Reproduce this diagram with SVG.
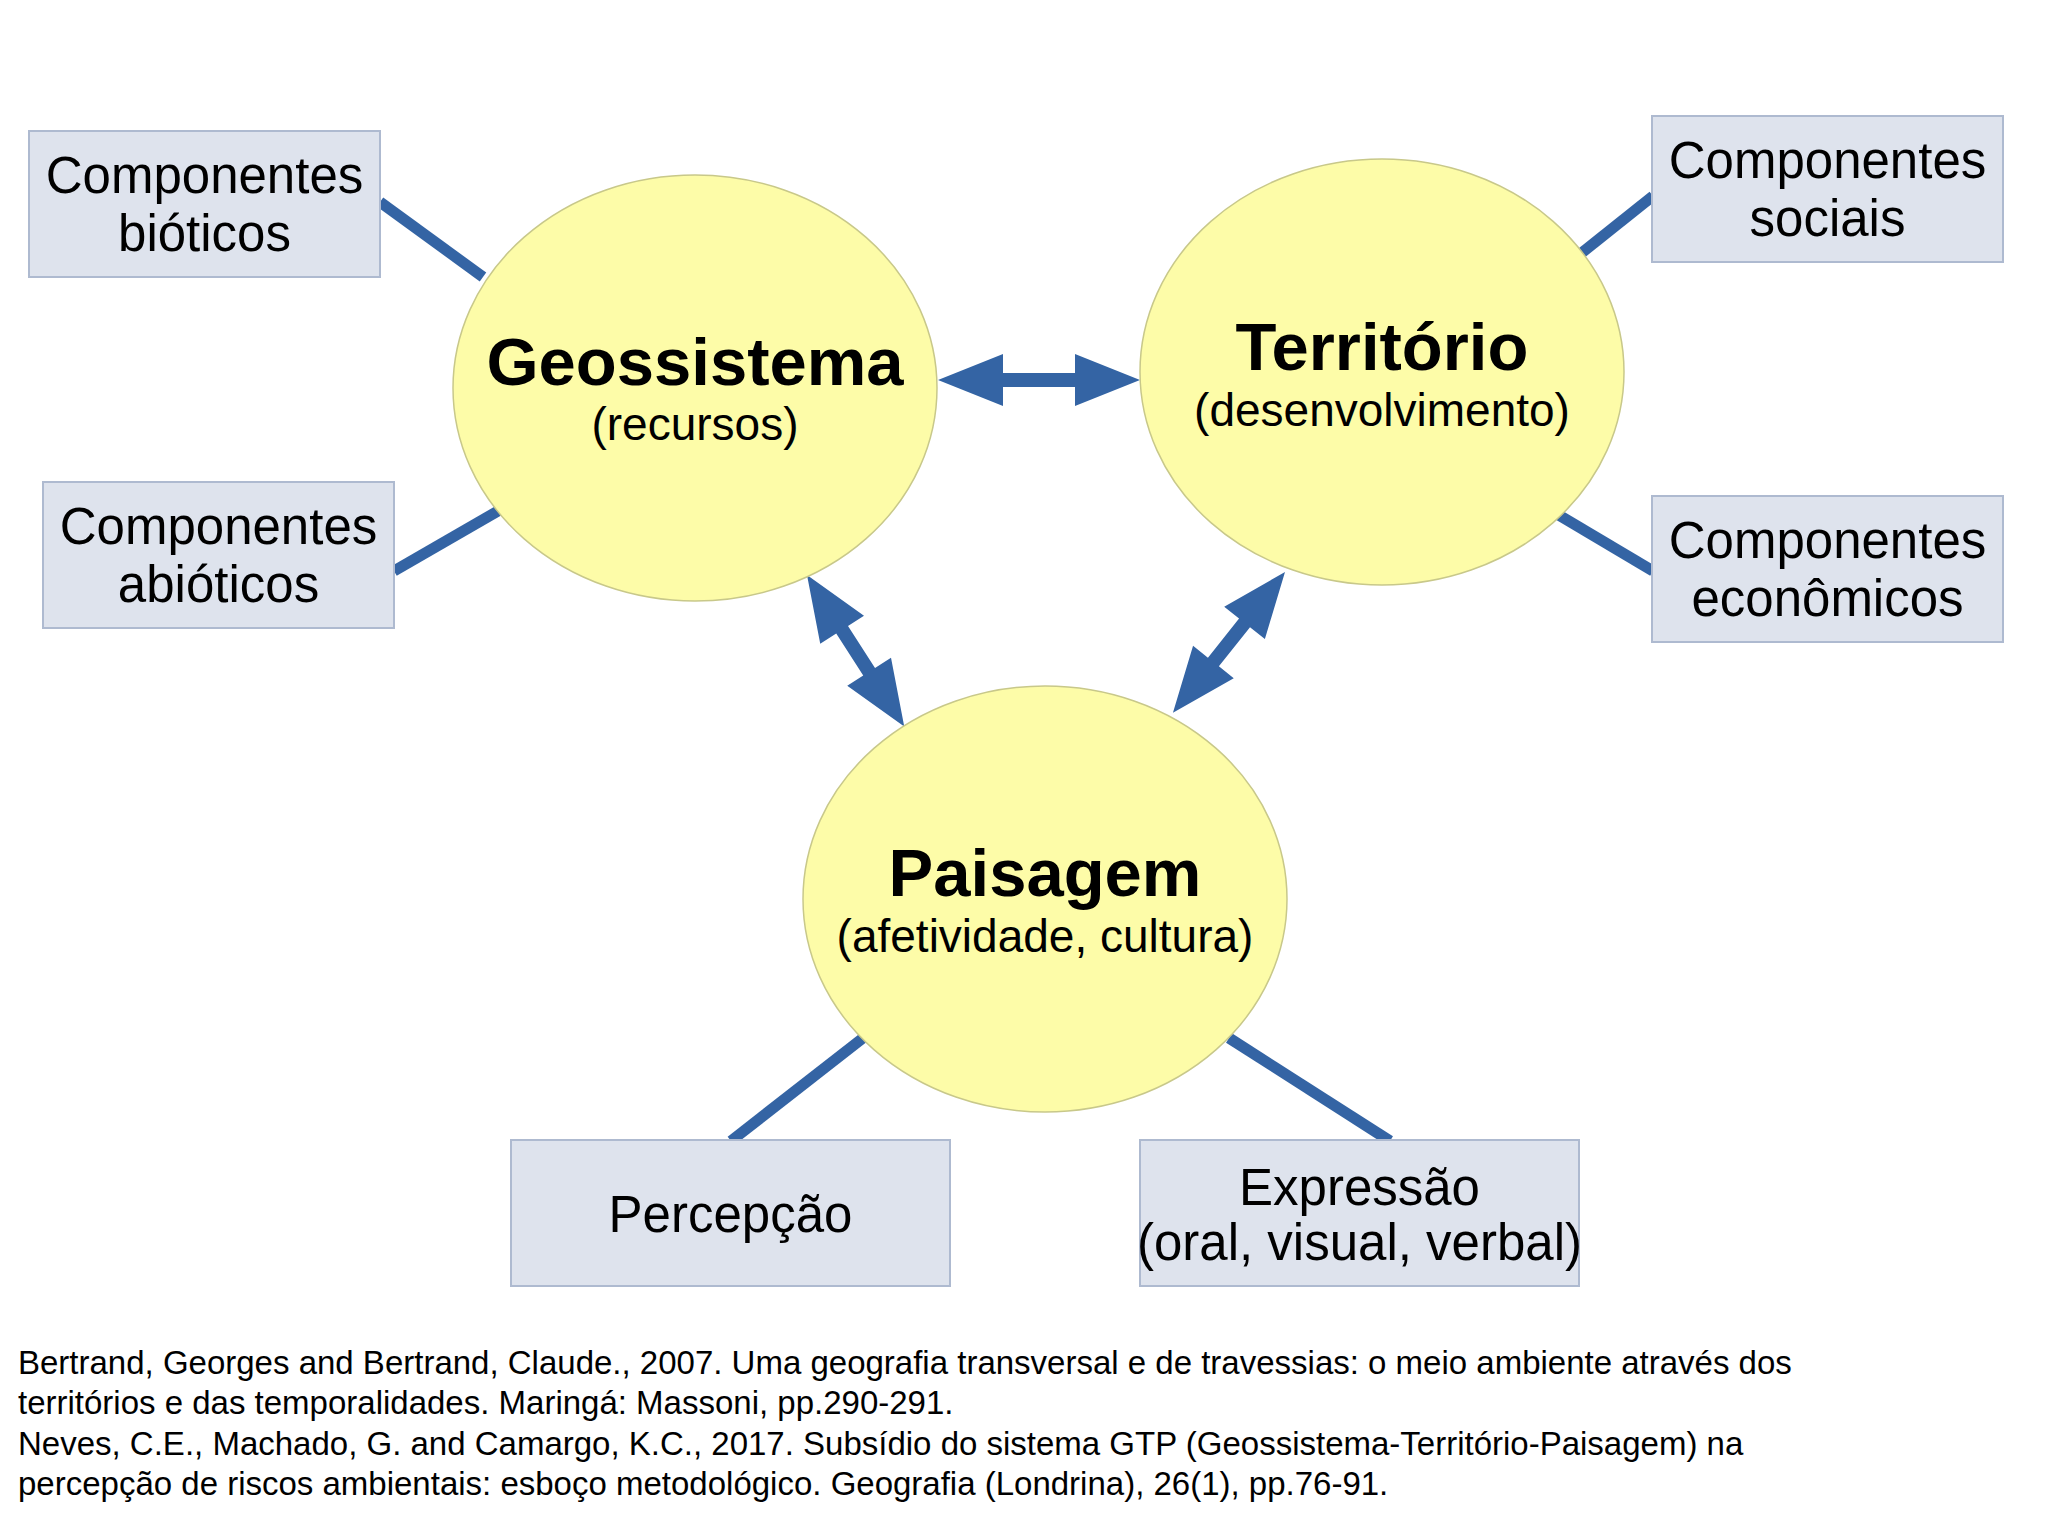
<svg xmlns="http://www.w3.org/2000/svg" width="2048" height="1536" viewBox="0 0 2048 1536">
<style>
text{font-family:"Liberation Sans",Arial,sans-serif;fill:#000;text-anchor:middle}
.el{fill:#fdfca8;stroke:#c8c88a;stroke-width:1.5}
.bx{fill:#dee3ed;stroke:#aebad0;stroke-width:2}
.t{font-size:51px}
.h{font-size:67px;font-weight:bold}
.s{font-size:46px}
.ln{stroke:#3464a4;stroke-width:11;fill:none}
.ar{fill:#3464a4}
.ref{font-size:33px;text-anchor:start}
</style>
<rect width="2048" height="1536" fill="#fff"/>
<g id="connectors">
<line class="ln" x1="380" y1="202" x2="483" y2="277"/>
<line class="ln" x1="394" y1="571" x2="498" y2="511"/>
<line class="ln" x1="1579" y1="255" x2="1653" y2="196"/>
<line class="ln" x1="1552" y1="511" x2="1653" y2="571"/>
<line class="ln" x1="731" y1="1141" x2="863" y2="1038"/>
<line class="ln" x1="1229" y1="1038" x2="1390" y2="1141"/>
<polygon class="ar" transform="translate(938,380)" points="0,0 65,-26 65,-7 137,-7 137,-26 202,0 137,26 137,7 65,7 65,26"/>
<polygon class="ar" transform="translate(807,575) rotate(57.3)" points="0,0 65,-26 65,-7 115,-7 115,-26 180,0 115,26 115,7 65,7 65,26"/>
<polygon class="ar" transform="translate(1285,572) rotate(128.5)" points="0,0 65,-26 65,-7 115,-7 115,-26 180,0 115,26 115,7 65,7 65,26"/>
</g>
<g id="geossistema"><ellipse class="el" cx="695" cy="388" rx="242" ry="213"/><text class="h" x="695" y="385">Geossistema</text><text class="s" x="695" y="440">(recursos)</text></g>
<g id="territorio"><ellipse class="el" cx="1382" cy="372" rx="242" ry="213"/><text class="h" x="1382" y="370">Território</text><text class="s" x="1382" y="426">(desenvolvimento)</text></g>
<g id="paisagem"><ellipse class="el" cx="1045" cy="899" rx="242" ry="213"/><text class="h" x="1045" y="896">Paisagem</text><text class="s" x="1045" y="952">(afetividade, cultura)</text></g>
<g id="bioticos"><rect class="bx" x="29" y="131" width="351" height="146"/><text class="t" x="204.5" y="193">Componentes</text><text class="t" x="204.5" y="251">bióticos</text></g>
<g id="abioticos"><rect class="bx" x="43" y="482" width="351" height="146"/><text class="t" x="218.5" y="544">Componentes</text><text class="t" x="218.5" y="602">abióticos</text></g>
<g id="sociais"><rect class="bx" x="1652" y="116" width="351" height="146"/><text class="t" x="1827.5" y="178">Componentes</text><text class="t" x="1827.5" y="236">sociais</text></g>
<g id="economicos"><rect class="bx" x="1652" y="496" width="351" height="146"/><text class="t" x="1827.5" y="558">Componentes</text><text class="t" x="1827.5" y="616">econômicos</text></g>
<g id="percepcao"><rect class="bx" x="511" y="1140" width="439" height="146"/><text class="t" x="730.5" y="1232">Percepção</text></g>
<g id="expressao"><rect class="bx" x="1140" y="1140" width="439" height="146"/><text class="t" x="1359.5" y="1205">Expressão</text><text class="t" x="1359.5" y="1260">(oral, visual, verbal)</text></g>
<g id="reference">
<text class="ref" x="18" y="1374">Bertrand, Georges and Bertrand, Claude., 2007. Uma geografia transversal e de travessias: o meio ambiente através dos</text>
<text class="ref" x="18" y="1414">territórios e das temporalidades. Maringá: Massoni, pp.290-291.</text>
<text class="ref" x="18" y="1455">Neves, C.E., Machado, G. and Camargo, K.C., 2017. Subsídio do sistema GTP (Geossistema-Território-Paisagem) na</text>
<text class="ref" x="18" y="1495">percepção de riscos ambientais: esboço metodológico. Geografia (Londrina), 26(1), pp.76-91.</text>
</g>
</svg>
